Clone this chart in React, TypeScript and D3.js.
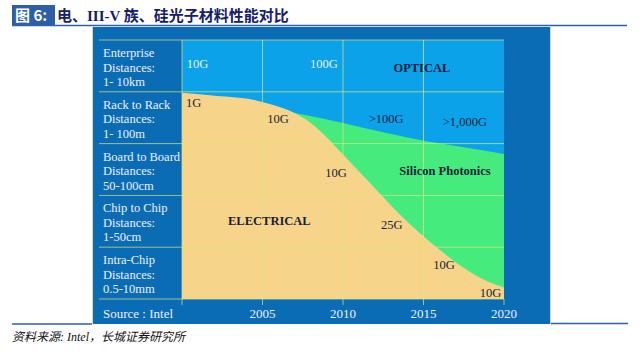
import React from "react";
import * as d3 from "d3";

const W = 639;
const H = 357;

const rowLabels: string[][] = [
  ["Enterprise", "Distances:", "1- 10km"],
  ["Rack to Rack", "Distances:", "1- 100m"],
  ["Board to Board", "Distances:", "50-100cm"],
  ["Chip to Chip", "Distances:", "1-50cm"],
  ["Intra-Chip", "Distances:", "0.5-10mm"],
];

const tickYears = [2005, 2010, 2015, 2020];

// Electrical boundary (tier units, 0 = bottom, 5 = top)
const electricalYears = [2000, 2002.2, 2004.2, 2005.5, 2007.0, 2008, 2009, 2010, 2011, 2012.1, 2013.5, 2016, 2017.7, 2019, 2020];
const electricalTier = [3.98, 3.92, 3.86, 3.76, 3.59, 3.4, 3.12, 2.79, 2.46, 2.1, 1.64, 0.95, 0.56, 0.34, 0.22];

// Silicon photonics upper boundary (below optical)
const photonicsYears = [2007.0, 2010, 2012.5, 2014.8, 2017.5, 2020];
const photonicsTier = [3.59, 3.4, 3.22, 3.07, 2.93, 2.8];

type Note = { text: string; year: number; tier: number; bold?: boolean; light?: boolean; anchor?: string };
const notes: Note[] = [
  { text: "10G", year: 2000.3, tier: 4.46, light: true },
  { text: "100G", year: 2007.95, tier: 4.46, light: true },
  { text: "OPTICAL", year: 2014.9, tier: 4.38, bold: true, anchor: "middle" },
  { text: "1G", year: 2000.25, tier: 3.71 },
  { text: "10G", year: 2005.3, tier: 3.4 },
  { text: ">100G", year: 2011.6, tier: 3.4 },
  { text: ">1,000G", year: 2016.2, tier: 3.34 },
  { text: "Silicon Photonics", year: 2013.5, tier: 2.39, bold: true },
  { text: "10G", year: 2008.9, tier: 2.36 },
  { text: "ELECTRICAL", year: 2002.86, tier: 1.43, bold: true },
  { text: "25G", year: 2012.36, tier: 1.35 },
  { text: "10G", year: 2015.6, tier: 0.58 },
  { text: "10G", year: 2018.5, tier: 0.04 },
];

const COL_PANEL = "#0b6cb6";
const COL_OPTICAL = "#0ca2ea";
const COL_TAN = "#f6d48a";
const COL_GREEN = "#45eb7c";
const COL_GRID = "#e4e878";
const COL_TEXT = "#1a1d3c";
const SERIF = "'Liberation Serif', 'DejaVu Serif', serif";

export default function App() {
  const x = d3.scaleLinear().domain([2000, 2020]).range([182, 504]);
  const y = d3.scaleLinear().domain([0, 5]).range([299, 40]);

  const elecArea = d3
    .area<number>()
    .x((_, i) => x(electricalYears[i]))
    .y0(y(0))
    .y1((d) => y(d))
    .curve(d3.curveMonotoneX)(electricalTier) as string;

  const photArea = d3
    .area<number>()
    .x((_, i) => x(photonicsYears[i]))
    .y0(y(0))
    .y1((d) => y(d))
    .curve(d3.curveMonotoneX)(photonicsTier) as string;

  const rowEdges = d3.range(0, 6).map((i) => y(5 - i));

  return (
    <div style={{ position: "absolute", left: 0, top: 0 }}>
      <svg width={W} height={H} style={{ display: "block", background: "#fff" }}>
        {/* Title */}
        <rect x={12} y={5} width={43} height={20} fill="#2c5fa8" />
        <text x={15} y={21} fill="#fff" fontSize={15} fontWeight="bold" fontFamily={"'Noto Sans CJK SC', sans-serif"}>
          图 6:
        </text>
        <text x={57} y={21} fill="#14206a" fontSize={15} fontWeight="bold" fontFamily={"'Liberation Serif', 'Noto Sans CJK SC', serif"}>
          电、III-V 族、硅光子材料性能对比
        </text>
        <line x1={12} x2={627} y1={25.5} y2={25.5} stroke="#2c5fa8" strokeWidth={1.5} />

        {/* Panel */}
        <rect x={92} y={27} width={459} height={297} fill={COL_PANEL} />
        <line x1={92.5} x2={92.5} y1={27} y2={324} stroke="#cfe0a0" strokeWidth={1} />
        <line x1={550.5} x2={550.5} y1={27} y2={324} stroke="#cfe0a0" strokeWidth={1} />
        <line x1={12} x2={92} y1={324} y2={324} stroke="#2c5fa8" strokeWidth={1.5} />
        <line x1={551} x2={628} y1={323.5} y2={323.5} stroke="#2c5fa8" strokeWidth={1.5} />

        {/* Plot areas */}
        <rect x={x(2000)} y={y(5)} width={x(2020) - x(2000)} height={y(0) - y(5)} fill={COL_OPTICAL} />
        <path d={photArea} fill={COL_GREEN} />
        <path d={elecArea} fill={COL_TAN} />

        {/* Grid lines */}
        {rowEdges.map((ry, i) => (
          <line key={"r" + i} x1={99} x2={x(2020)} y1={ry} y2={ry} stroke={COL_GRID} strokeWidth={0.8} opacity={0.85} />
        ))}
        <line x1={x(2000)} x2={x(2000)} y1={y(5)} y2={y(0) + 6} stroke={COL_GRID} strokeWidth={0.8} opacity={0.85} />
        {tickYears.map((yr) => (
          <line key={"v" + yr} x1={x(yr)} x2={x(yr)} y1={yr === 2020 ? y(0) : y(5)} y2={y(0) + 6} stroke={COL_GRID} strokeWidth={0.8} opacity={0.85} />
        ))}

        {/* Row labels */}
        {rowLabels.map((lines, i) =>
          lines.map((t, j) => (
            <text key={i + "-" + j} x={103} y={rowEdges[i] + 17 + j * 14.5} fill="#eef0fa" fontSize={12.5} fontFamily={SERIF}>
              {t}
            </text>
          ))
        )}

        {/* X axis labels */}
        {tickYears.map((yr) => (
          <text key={"t" + yr} x={x(yr)} y={318} textAnchor="middle" fill="#eef0fa" fontSize={13} fontFamily={SERIF}>
            {yr}
          </text>
        ))}
        <text x={103} y={318} fill="#eef0fa" fontSize={13} fontFamily={SERIF}>
          Source : Intel
        </text>

        {/* Annotations */}
        {notes.map((n, i) => (
          <text
            key={"n" + i}
            x={x(n.year)}
            y={y(n.tier)}
            textAnchor={n.anchor || "start"}
            fill={n.light ? "#eef2fb" : COL_TEXT}
            fontWeight={n.bold ? "bold" : "normal"}
            fontSize={12.5}
            fontFamily={SERIF}
          >
            {n.text}
          </text>
        ))}

        {/* Footer */}
        <text x={12} y={341} fill="#111" fontSize={12} fontStyle="italic" fontFamily={"'Liberation Serif', 'Noto Sans CJK SC', serif"}>
          资料来源: Intel，长城证券研究所
        </text>
      </svg>
    </div>
  );
}
